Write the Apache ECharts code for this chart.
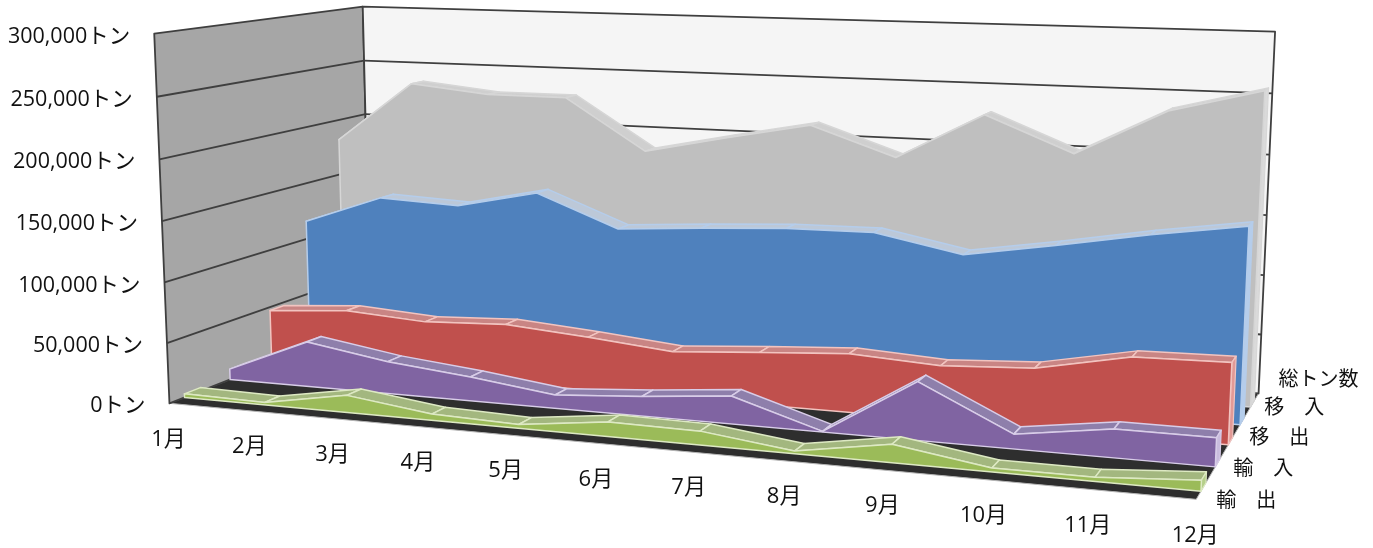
<!DOCTYPE html>
<html><head><meta charset="utf-8">
<style>html,body{margin:0;padding:0;background:#fff}#c{width:1373px;height:548px}</style>
<script src="https://cdn.jsdelivr.net/npm/echarts@6/dist/echarts.min.js"></script>
</head><body><div id="c"></div>
<script>
const months=['1月','2月','3月','4月','5月','6月','7月','8月','9月','10月','11月','12月'];
const yTicks=[0,50000,100000,150000,200000,250000,300000];
const yTickLabels=['0トン','50,000トン','100,000トン','150,000トン','200,000トン','250,000トン','300,000トン'];
const seriesNames=['輸　出','輸　入','移　出','移　入','総トン数'];
const exportTons=[3000,2000,14000,5000,3000,11500,10800,2000,14000,3000,3000,8000];
const importTons=[9000,38000,27000,20000,11000,16000,22500,500,46000,11500,22000,22000];
const moveOut=[47000,52000,47500,50500,45000,38500,43500,48000,44000,48000,62500,64000];
const moveIn=[116000,141000,138000,153000,126000,131000,135000,136000,122000,134000,147000,158000];
const totalTons=[182000,236000,229000,229000,185000,200000,214000,190000,229000,200000,238000,257000];
const seriesValues=[exportTons,importTons,moveOut,moveIn,totalTons];
const seriesDepth=[0.065,0.27,0.47,0.665,0.85];
const faceColors=['#9BBB59','#8064A2','#C0504D','#4F81BD','#BFBFBF'];
const topColors=['#A3B77F','#8E7FAB','#C98584','#BCC8D8','#CFCFCF'];
const edgeColors=['#DDE9C3','#D8CDE8','#F2C4C0','#B5CDEB','#D6D6D6'];
const sideColors=['#B5CF8A','#C9BCDD','#E29A96','#B5CDEB','#DADADA'];
const thickness=0.07;

// perspective box anchors: u,v,w -> pixel
const anchors=[[0,0,0,169,404],[0,1,0,154,35],[0,0,1,371,323],[0,1,1,363,6],[1,0,1,1258,396],[1,1,1,1275,31],[1,0,0,1197,497]];
function solveCamera(){
  const rows=[],rhs=[];
  anchors.forEach(([u,v,w,x,y])=>{x/=1000;y/=1000;
    rows.push([u,v,w,1,0,0,0,0,-x*u,-x*v,-x*w]);rhs.push(x);
    rows.push([0,0,0,0,u,v,w,1,-y*u,-y*v,-y*w]);rhs.push(y);});
  const n=11,A=[];
  for(let i=0;i<n;i++){A.push(new Array(n+1).fill(0));
    for(let j=0;j<n;j++)rows.forEach(r=>A[i][j]+=r[i]*r[j]);
    rows.forEach((r,k)=>A[i][n]+=r[i]*rhs[k]);}
  for(let c=0;c<n;c++){let p=c;for(let r=c+1;r<n;r++)if(Math.abs(A[r][c])>Math.abs(A[p][c]))p=r;
    [A[c],A[p]]=[A[p],A[c]];
    for(let r=0;r<n;r++)if(r!==c){const f=A[r][c]/A[c][c];for(let k=c;k<=n;k++)A[r][k]-=f*A[c][k];}}
  return A.map((r,i)=>r[n]/r[i]);
}
const m=solveCamera();
function proj3(u,v,w){const d=m[8]*u+m[9]*v+m[10]*w+1;
  return [1000*(m[0]*u+m[1]*v+m[2]*w+m[3])/d,1000*(m[4]*u+m[5]*v+m[6]*w+m[7])/d];}
function project(pt,w,cs){return proj3((pt[0]-cs.x)/cs.width,(cs.y+cs.height-pt[1])/cs.height,w);}

const FONT='"Open Sans","Noto Sans CJK JP",sans-serif';
const LINE='#3f3f3f';
function poly(points,fill,stroke,lw){return {type:'polygon',shape:{points},silent:true,style:{fill,stroke:stroke||'none',lineWidth:lw||0,lineJoin:'round'}};}
function seg(a,b,stroke,lw){return {type:'line',shape:{x1:a[0],y1:a[1],x2:b[0],y2:b[1]},silent:true,style:{stroke,lineWidth:lw}};}
function text(t,x,y,align,size){return {type:'text',silent:true,style:{text:t,x,y,align,verticalAlign:'middle',fill:'#111',fontSize:size,fontFamily:FONT}};}

function renderBox(params,api){
  if(params.dataIndex!==0)return null;
  const cs=params.coordSys,last=months.length-1,top=yTicks[yTicks.length-1];
  const P=(i,val,w)=>project(api.coord([i,val]),w,cs);
  const ch=[];
  ch.push(poly([P(0,0,0),P(0,0,1),P(last,0,1),P(last,0,0)],'#2E2E2E','#B5B5B5',1));
  ch.push(poly([P(0,0,0),P(0,top,0),P(0,top,1),P(0,0,1)],'#A6A6A6',LINE,1.8));
  ch.push(poly([P(0,0,1),P(0,top,1),P(last,top,1),P(last,0,1)],'#F5F5F5',LINE,1.8));
  yTicks.forEach((t,i)=>{
    if(i>0&&i<yTicks.length-1){ch.push(seg(P(0,t,0),P(0,t,1),LINE,1.8));ch.push(seg(P(0,t,1),P(last,t,1),LINE,1.8));}
    const a=P(0,t,0);ch.push(text(yTickLabels[i],a[0]-24,a[1]+3,'right',21.5));
  });
  months.forEach((mn,i)=>{const a=P(i,0,0);ch.push(text(mn,a[0]-1,a[1]+36,'center',22));});
  seriesNames.forEach((nm,k)=>{const a=P(last,0,(k+0.55)/5);
    ch.push(text(nm,a[0]+12+3.2*k,a[1]+16-9.3*k,'left',20));});
  return {type:'group',children:ch};
}
function renderArea(k){return function(params,api){
  if(params.dataIndex!==0)return null;
  const cs=params.coordSys,vals=seriesValues[k],last=vals.length-1,w0=seriesDepth[k],w1=w0+thickness;
  const P=(i,val,w)=>project(api.coord([i,val]),w,cs);
  const ch=[];
  for(let i=0;i<last;i++){
    ch.push(poly([P(i,vals[i],w0),P(i,vals[i],w1),P(i+1,vals[i+1],w1),P(i+1,vals[i+1],w0)],topColors[k],edgeColors[k],1.5));
  }
  ch.push(poly([P(last,0,w0),P(last,vals[last],w0),P(last,vals[last],w1),P(last,0,w1)],sideColors[k],edgeColors[k],1.2));
  const face=[P(0,0,w0)];vals.forEach((v,i)=>face.push(P(i,v,w0)));face.push(P(last,0,w0));
  ch.push(poly(face,faceColors[k],edgeColors[k],1.5));
  return {type:'group',children:ch};
};}
const chart=echarts.init(document.getElementById('c'),null,{renderer:'canvas'});
const order=[4,3,2,1,0];
chart.setOption({
  animation:false,
  backgroundColor:'#fff',
  grid:{left:0,top:0,width:1373,height:548,containLabel:false},
  xAxis:{type:'category',data:months,boundaryGap:false,show:false},
  yAxis:{type:'value',min:0,max:300000,interval:50000,show:false},
  series:[{type:'custom',name:'box',coordinateSystem:'cartesian2d',clip:false,silent:true,z:1,
      data:yTicks.map(t=>[0,t]),encode:{x:0,y:1},renderItem:renderBox}]
    .concat(order.map((k,o)=>({type:'custom',name:seriesNames[k],coordinateSystem:'cartesian2d',clip:false,silent:true,z:2+o,
      data:seriesValues[k].map((v,i)=>[i,v]),encode:{x:0,y:1},renderItem:renderArea(k)})))
});
</script></body></html>
